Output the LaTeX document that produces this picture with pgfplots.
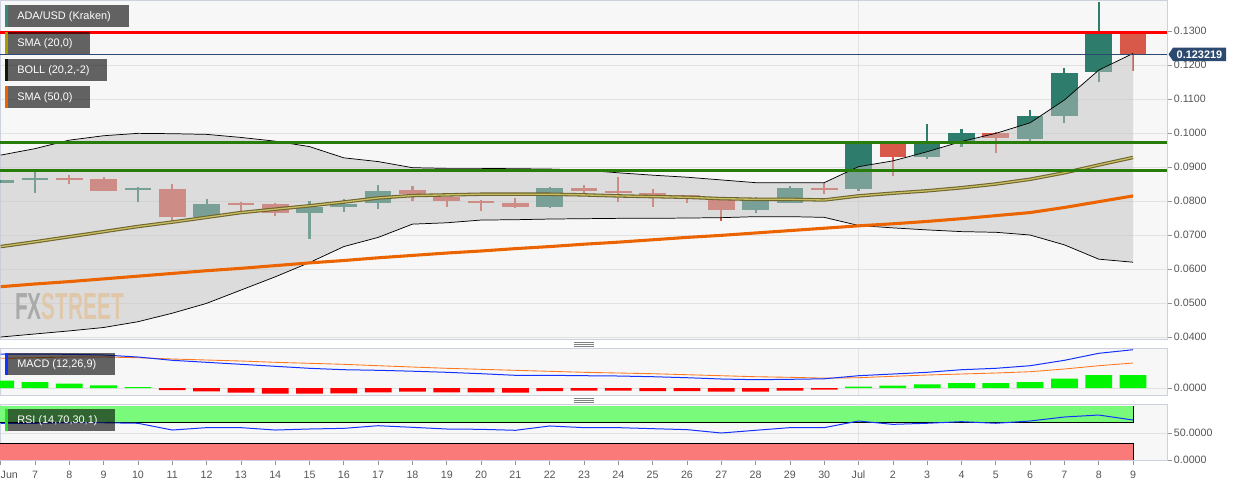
\documentclass[border=0pt]{standalone}
\usepackage{pgfplots}
\pgfplotsset{compat=1.18}
\usepackage{pgfplotstable}
\usepgfplotslibrary{fillbetween}
\usepackage{fontspec}
\setmainfont{Liberation Sans}
\definecolor{bgplot}{RGB}{247,247,247}
\definecolor{border}{RGB}{204,209,224}
\definecolor{gridc}{RGB}{226,226,226}
\definecolor{ticktxt}{RGB}{85,85,85}
\definecolor{tickc}{RGB}{150,150,150}
\definecolor{upc}{RGB}{46,125,108}
\definecolor{dnc}{RGB}{216,88,74}
\definecolor{bandfill}{RGB}{195,195,195}
\definecolor{smadark}{RGB}{110,100,45}
\definecolor{smalight}{RGB}{200,190,100}
\definecolor{smaorange}{RGB}{236,100,0}
\definecolor{lvlgreen}{RGB}{40,125,10}
\definecolor{navy}{RGB}{44,74,112}
\definecolor{macdblue}{RGB}{20,50,255}
\definecolor{macdorange}{RGB}{255,120,30}
\definecolor{histgreen}{RGB}{0,245,0}
\definecolor{rsigreen}{RGB}{122,250,122}
\definecolor{rsired}{RGB}{250,122,122}
\definecolor{wmgray}{RGB}{145,145,145}
\definecolor{wmtan}{RGB}{255,205,145}
\definecolor{legbar1}{RGB}{46,140,120}
\definecolor{legbar2}{RGB}{170,155,0}
\definecolor{legbar3}{RGB}{10,25,10}
\definecolor{legbar4}{RGB}{236,100,0}
\definecolor{legbar5}{RGB}{20,50,255}
\definecolor{legbar6}{RGB}{40,220,40}

% daily candles: day index (0 = Jun 6), open, high, low, close
\pgfplotstableread{
d o h l c
0 0.0854 0.0863 0.0853 0.0862
1 0.0862 0.0886 0.0823 0.0868
4 0.0832 0.0840 0.0796 0.0837
6 0.0754 0.0805 0.0752 0.0791
9 0.0766 0.0800 0.0689 0.0781
10 0.0783 0.0805 0.0767 0.0791
11 0.0793 0.0846 0.0776 0.0830
16 0.0783 0.0840 0.0779 0.0838
22 0.0774 0.0811 0.0764 0.0800
23 0.0795 0.0844 0.0795 0.0838
25 0.0834 0.0970 0.0828 0.0970
27 0.0930 0.1027 0.0923 0.0967
28 0.0967 0.1012 0.0960 0.1001
30 0.0982 0.1068 0.0976 0.1051
31 0.1051 0.1190 0.1030 0.1176
32 0.1178 0.1384 0.1149 0.1293
}\upcandles
\pgfplotstableread{
d o h l c
2 0.0867 0.0877 0.0850 0.0863
3 0.0865 0.0870 0.0830 0.0830
5 0.0835 0.0849 0.0739 0.0752
7 0.0795 0.0797 0.0772 0.0790
8 0.0790 0.0795 0.0757 0.0764
12 0.0832 0.0844 0.0801 0.0822
13 0.0813 0.0813 0.0783 0.0799
14 0.0799 0.0803 0.0772 0.0793
15 0.0795 0.0809 0.0780 0.0783
17 0.0837 0.0847 0.0821 0.0828
18 0.0829 0.0870 0.0798 0.0825
19 0.0825 0.0835 0.0783 0.0816
20 0.0817 0.0818 0.0793 0.0810
21 0.0803 0.0804 0.0742 0.0774
24 0.0839 0.0852 0.0820 0.0834
26 0.0970 0.0970 0.0875 0.0930
29 0.1001 0.1002 0.0942 0.0986
33 0.1293 0.1293 0.1183 0.1232
}\downcandles
% Bollinger (20,2): upper, middle (= SMA 20), lower; SMA 50
\pgfplotstableread{
d up mid lo sma
0 0.0935 0.0666 0.0400 0.0548
1 0.0954 0.0680 0.0409 0.0556
2 0.0979 0.0695 0.0418 0.0563
3 0.0992 0.0710 0.0428 0.0571
4 0.0999 0.0725 0.0445 0.0579
5 0.0998 0.0738 0.0470 0.0587
6 0.0996 0.0752 0.0499 0.0595
7 0.0987 0.0766 0.0538 0.0602
8 0.0976 0.0776 0.0577 0.0610
9 0.0960 0.0786 0.0619 0.0618
10 0.0927 0.0797 0.0666 0.0625
11 0.0916 0.0809 0.0693 0.0633
12 0.0898 0.0816 0.0732 0.0640
13 0.0896 0.0818 0.0736 0.0647
14 0.0896 0.0820 0.0744 0.0653
15 0.0895 0.0820 0.0745 0.0660
16 0.0894 0.0820 0.0747 0.0666
17 0.0891 0.0818 0.0748 0.0673
18 0.0883 0.0815 0.0749 0.0679
19 0.0876 0.0813 0.0749 0.0686
20 0.0870 0.0811 0.0750 0.0693
21 0.0862 0.0807 0.0751 0.0699
22 0.0854 0.0805 0.0754 0.0706
23 0.0854 0.0805 0.0754 0.0713
24 0.0854 0.0803 0.0752 0.0720
25 0.0901 0.0815 0.0728 0.0727
26 0.0918 0.0823 0.0721 0.0733
27 0.0945 0.0830 0.0715 0.0740
28 0.0975 0.0839 0.0710 0.0748
29 0.0999 0.0850 0.0708 0.0757
30 0.1030 0.0864 0.0700 0.0766
31 0.1097 0.0883 0.0671 0.0781
32 0.1185 0.0906 0.0629 0.0798
33 0.1234 0.0928 0.0620 0.0815
}\bands
% MACD (panel units), signal, histogram
\pgfplotstableread{
d m sig hist
0 34.0 29.7 7.3
1 34.0 30.3 6.0
2 33.7 31.0 4.3
3 33.0 31.0 2.7
4 31.0 30.3 1.0
5 27.7 29.0 -2.0
6 25.7 28.0 -3.3
7 23.7 27.0 -4.7
8 21.7 25.7 -5.7
9 19.7 24.7 -5.7
10 18.3 23.7 -5.3
11 17.7 22.3 -4.3
12 16.8 21.0 -3.7
13 15.7 19.7 -4.3
14 14.3 18.7 -4.3
15 12.7 17.7 -4.7
16 12.7 16.7 -3.0
17 12.3 15.7 -2.7
18 12.0 15.0 -2.7
19 11.3 14.3 -3.0
20 10.3 13.3 -3.0
21 9.0 12.3 -3.7
22 8.3 11.3 -3.7
23 8.7 10.7 -2.7
24 9.2 9.9 -1.7
25 12.3 10.3 1.3
26 14.0 11.7 2.3
27 15.7 13.0 3.7
28 18.3 14.0 5.0
29 19.7 15.0 5.0
30 22.3 16.3 6.0
31 27.7 19.0 9.3
32 34.7 22.3 13.0
33 38.3 25.0 13.0
}\macd
% RSI (14)
\pgfplotstableread{
d r
0 68
1 68
2 69
3 69
4 68
5 55.5
6 59.9
7 59.9
8 55.5
9 57.4
10 58.6
11 63.5
12 60.5
13 57.4
14 56.8
15 55
16 63
17 59.9
18 59.9
19 58
20 56.2
21 50
22 55
23 59.9
24 59.9
25 72.2
26 66
27 68
28 71
29 68
30 72.2
31 79.6
32 83.3
33 74
}\rsi

\pgfplotsset{
  panel/.style={
    anchor=north west, scale only axis, width=875.25pt,
    xmin=-0.02, xmax=33.99,
    axis background/.style={fill=bgplot},
    axis line style={border, line width=0.7pt},
    grid style={gridc, line width=0.6pt},
    tick align=outside, major tick length=3.5pt,
    major tick style={tickc, line width=0.5pt},
    ytick pos=right, yticklabel pos=right,
    yticklabel style={font=\fontsize{8}{9}\selectfont, text=ticktxt, anchor=west, inner sep=0pt, xshift=1.5pt},
    xticklabel style={font=\fontsize{8}{9}\selectfont, text=ticktxt, anchor=north, inner sep=0pt, yshift=-4pt},
  },
}

\begin{document}
\begin{tikzpicture}

% ---------------- main price panel ----------------
\begin{axis}[panel,
  at={(0pt,0pt)}, height=254.25pt,
  set layers,
  ymin=0.039412, ymax=0.139118,
  xtick={25}, xticklabels={}, xmajorgrids, xtick style={draw=none},
  ytick={0.04,0.05,0.06,0.07,0.08,0.09,0.10,0.11,0.12,0.13},
  yticklabels={0.0400,0.0500,0.0600,0.0700,0.0800,0.0900,0.1000,0.1100,0.1200,0.1300},
  ymajorgrids,
]
\begin{pgfonlayer}{axis tick labels}
\node[anchor=west, inner sep=0pt] at (rel axis cs:0.0128,0.096)
  {\scalebox{0.553}[1]{\fontsize{28.3}{30}\selectfont\bfseries\textcolor{wmgray}{FX}\textcolor{wmtan}{STREET}}};
\end{pgfonlayer}

% wicks (below the band fill)
\addplot[on layer=axis tick labels, draw=none, mark=none, forget plot, error bars/.cd, y dir=both, y explicit, error mark=none,
  error bar style={draw=upc, line width=1.6pt, line cap=butt}]
  table[x=d, y expr={(\thisrow{h}+\thisrow{l})/2}, y error expr={(\thisrow{h}-\thisrow{l})/2}] {\upcandles};
\addplot[on layer=axis tick labels, draw=none, mark=none, forget plot, error bars/.cd, y dir=both, y explicit, error mark=none,
  error bar style={draw=dnc, line width=1.6pt, line cap=butt}]
  table[x=d, y expr={(\thisrow{h}+\thisrow{l})/2}, y error expr={(\thisrow{h}-\thisrow{l})/2}] {\downcandles};
% bodies
\addplot[on layer=axis tick labels, draw=none, mark=none, forget plot, error bars/.cd, y dir=both, y explicit, error mark=none,
  error bar style={draw=upc, line width=20pt, line cap=butt}]
  table[x=d, y expr={(\thisrow{o}+\thisrow{c})/2}, y error expr={abs(\thisrow{c}-\thisrow{o})/2}] {\upcandles};
\addplot[on layer=axis tick labels, draw=none, mark=none, forget plot, error bars/.cd, y dir=both, y explicit, error mark=none,
  error bar style={draw=dnc, line width=20pt, line cap=butt}]
  table[x=d, y expr={(\thisrow{o}+\thisrow{c})/2}, y error expr={abs(\thisrow{c}-\thisrow{o})/2}] {\downcandles};

% Bollinger band fill (pre main layer, over the candles)
\addplot[draw=none, name path=bu, forget plot] table[x=d, y=up] {\bands};
\addplot[draw=none, name path=bl, forget plot] table[x=d, y=lo] {\bands};
\addplot[bandfill, fill opacity=0.5, draw=none, forget plot] fill between[of=bu and bl];
\addplot[black, line width=0.55pt, forget plot] table[x=d, y=up] {\bands};
\addplot[black, line width=0.55pt, forget plot] table[x=d, y=lo] {\bands};

% SMA 20 / Bollinger middle
\addplot[smadark, line width=2.6pt, forget plot] table[x=d, y=mid] {\bands};
\addplot[smalight, line width=1.0pt, forget plot] table[x=d, y=mid] {\bands};
% SMA 50
\addplot[smaorange, line width=2.3pt, forget plot] table[x=d, y=sma] {\bands};

% horizontal levels
\addplot[lvlgreen, line width=2.2pt, forget plot] coordinates {(-0.02,0.09725) (33.99,0.09725)};
\addplot[lvlgreen, line width=2.2pt, forget plot] coordinates {(-0.02,0.08903) (33.99,0.08903)};
\addplot[red, line width=2.0pt, forget plot] coordinates {(-0.02,0.12960) (33.99,0.12960)};
\addplot[navy, line width=0.8pt, forget plot] coordinates {(-0.02,0.123219) (33.99,0.123219)};
\end{axis}

% ---------------- MACD panel ----------------
\begin{axis}[panel,
  at={(0pt,-261.225pt)}, height=35.25pt,
  ymin=-7.3, ymax=39.7,
  xtick={25}, xticklabels={}, xmajorgrids, xtick style={draw=none},
  ytick={0}, yticklabels={0.0000}, ymajorgrids,
]
\addplot[ybar, bar width=0.78, bar shift=0pt, fill=histgreen, draw=none, restrict y to domain=0:100]
  table[x=d, y=hist] {\macd};
\addplot[ybar, bar width=0.78, bar shift=0pt, fill=red, draw=none, restrict y to domain=-100:0]
  table[x=d, y=hist] {\macd};
\addplot[macdorange, line width=0.65pt] table[x=d, y=sig] {\macd};
\addplot[macdblue, line width=0.75pt] table[x=d, y=m] {\macd};
\end{axis}

% ---------------- RSI panel ----------------
\begin{axis}[panel,
  at={(0pt,-303.225pt)}, height=42.3pt,
  ymin=-1.3, ymax=103.1,
  xtick={0,...,33},
  xticklabels={\makebox[0pt][l]{Jun},7,8,9,10,11,12,13,14,15,16,17,18,19,20,21,22,23,24,25,26,27,28,29,30,Jul,2,3,4,5,6,7,8,9},
  xtick pos=bottom,
  extra x ticks={25}, extra x tick labels={}, extra x tick style={grid=major, major tick length=0pt},
  ytick={0,50}, yticklabels={0.0000,50.0000}, ymajorgrids,
]
\addplot[fill=rsigreen, draw=none] coordinates {(-0.02,70) (33,70) (33,100) (-0.02,100)} -- cycle;
\addplot[fill=rsired, draw=none] coordinates {(-0.02,0) (33,0) (33,30) (-0.02,30)} -- cycle;
\addplot[black, line width=0.7pt] coordinates {(-0.02,70) (33,70) (33,100)};
\addplot[black, line width=0.7pt] coordinates {(-0.02,30) (33,30) (33,0)};
\addplot[macdblue, line width=0.75pt] table[x=d, y=r] {\rsi};
\end{axis}

% ---------------- overlays (pixel frame) ----------------
\begin{scope}[x=0.75pt, y=-0.75pt, every node/.style={font=\fontsize{8.2}{9}\selectfont, text=white, inner sep=0pt, anchor=west}]
  \fill[black, opacity=0.6] (8,5) rectangle (129,27);   \fill[legbar1] (5,5) rectangle (8,27);
  \node at (17,16.3) {ADA/USD (Kraken)};
  \fill[black, opacity=0.6] (8,32) rectangle (90,54);   \fill[legbar2] (5,32) rectangle (8,54);
  \node at (17,43.3) {SMA (20,0)};
  \fill[black, opacity=0.6] (8,59) rectangle (107,81);  \fill[legbar3] (5,59) rectangle (8,81);
  \node at (17,70.3) {BOLL (20,2,-2)};
  \fill[black, opacity=0.6] (8,86) rectangle (90,108);  \fill[legbar4] (5,86) rectangle (8,108);
  \node at (17,97.3) {SMA (50,0)};
  \fill[black, opacity=0.6] (8,353) rectangle (115,375); \fill[legbar5] (5,353) rectangle (8,375);
  \node at (17,364.3) {MACD (12,26,9)};
  \fill[black, opacity=0.6] (8,409) rectangle (115,431); \fill[legbar6] (5,409) rectangle (8,431);
  \node at (17,420.3) {RSI (14,70,30,1)};
  % current price tag
  \fill[navy] (1168.5,54.3) -- (1173,47.7) -- (1226,47.7) -- (1226,61) -- (1173,61) -- cycle;
  \node[anchor=center, font=\bfseries\fontsize{8.2}{9}\selectfont] at (1199.5,54.6) {0.123219};
  % panel handles
  \foreach \yy in {342.3,344.3,346.3,398.3,400.3,402.3}
    \draw[gray, line width=0.5pt] (573.5,\yy) -- (593.5,\yy);
  \pgfresetboundingbox
  \useasboundingbox (0,0) rectangle (1244,487);
\end{scope}
\end{tikzpicture}
\end{document}
